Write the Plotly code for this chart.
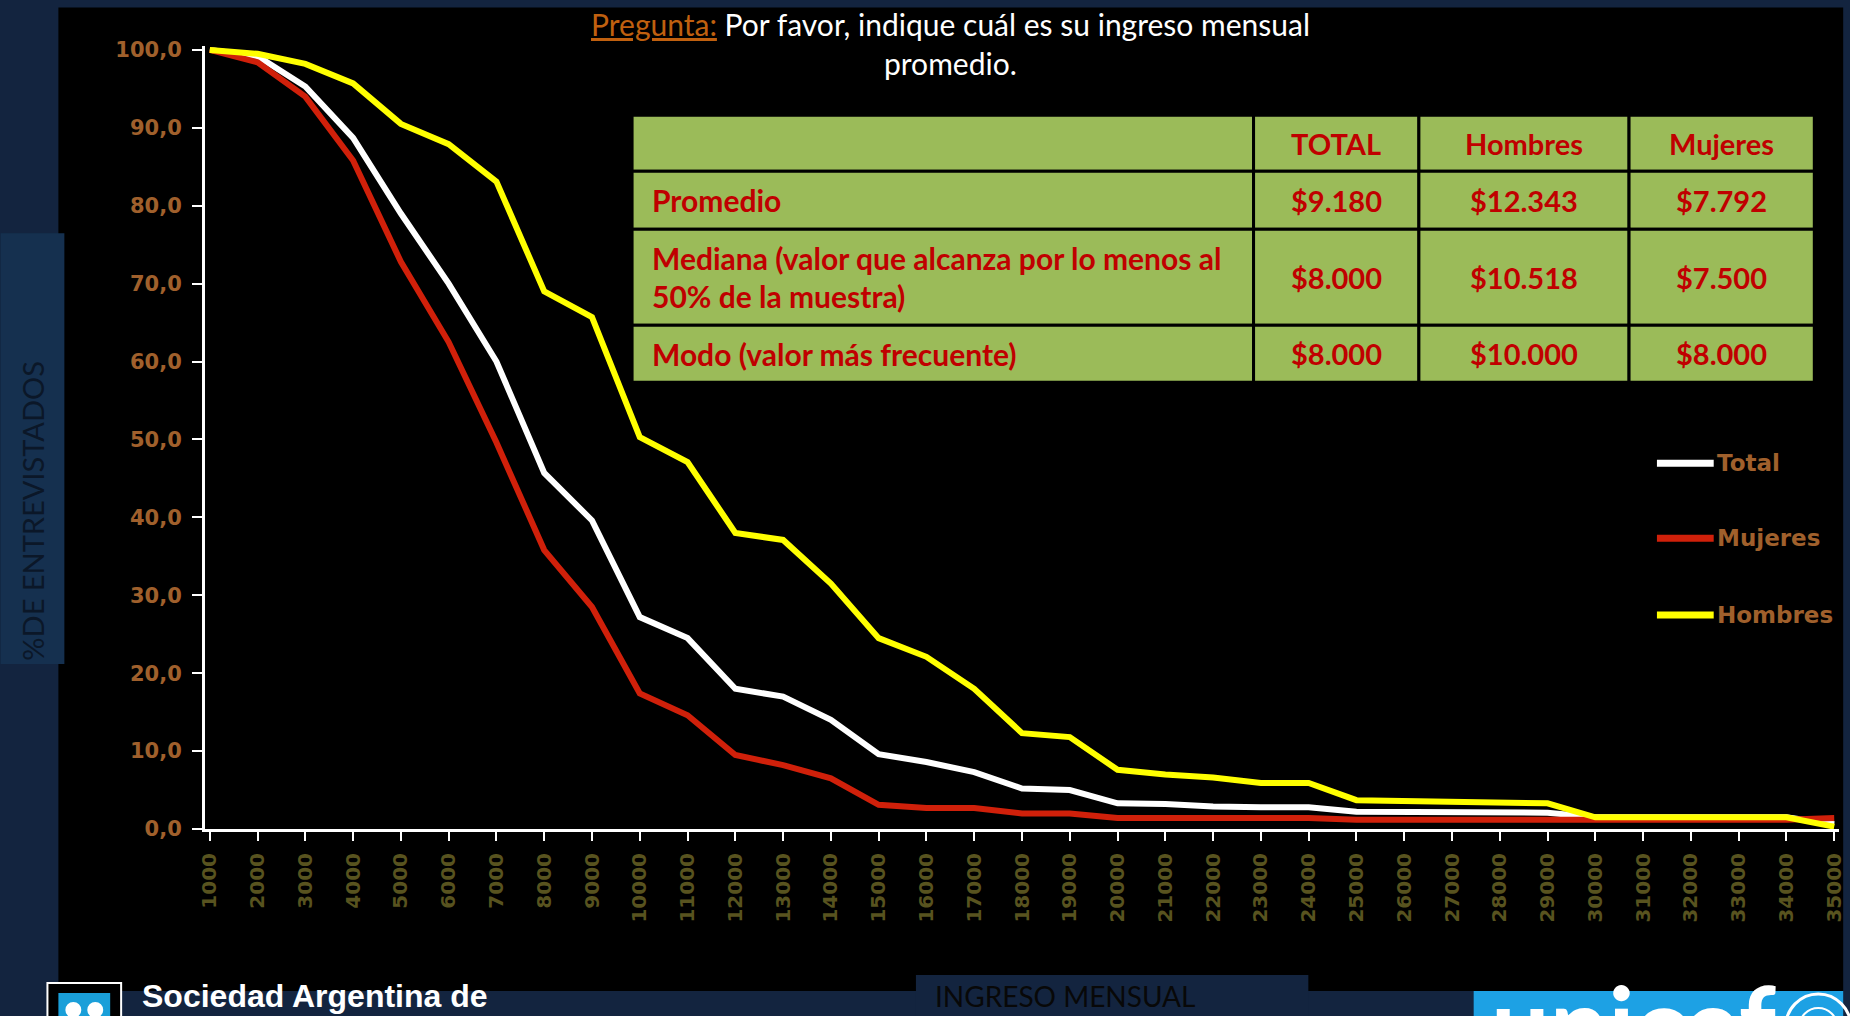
import plotly.graph_objects as go

# ---------------- data ----------------
categories = ["1000", "2000", "3000", "4000", "5000", "6000", "7000", "8000", "9000",
              "10000", "11000", "12000", "13000", "14000", "15000", "16000", "17000",
              "18000", "19000", "20000", "21000", "22000", "23000", "24000", "25000",
              "26000", "27000", "28000", "29000", "30000", "31000", "32000", "33000",
              "34000", "35000"]

total = [100.0, 99.2, 95.3, 88.7, 79.0, 70.0, 60.0, 45.7, 39.6, 27.2, 24.5, 18.0, 17.0,
         14.0, 9.6, 8.6, 7.3, 5.2, 5.0, 3.3, 3.2, 2.9, 2.8, 2.8, 2.2, 2.2, 2.1, 2.1, 2.1,
         1.5, 1.5, 1.5, 1.5, 1.5, 0.6]
mujeres = [100.0, 98.4, 94.0, 85.8, 72.8, 62.5, 49.6, 35.8, 28.5, 17.4, 14.6, 9.5, 8.2,
           6.5, 3.1, 2.7, 2.7, 2.0, 2.0, 1.4, 1.4, 1.4, 1.4, 1.4, 1.2, 1.2, 1.2, 1.2, 1.2,
           1.2, 1.2, 1.2, 1.2, 1.2, 1.4]
hombres = [100.0, 99.5, 98.2, 95.7, 90.5, 87.9, 83.1, 69.0, 65.7, 50.3, 47.1, 38.0, 37.1,
           31.5, 24.5, 22.1, 18.0, 12.3, 11.8, 7.6, 7.0, 6.6, 5.9, 5.9, 3.7, 3.6, 3.4, 3.3,
           3.3, 1.5, 1.5, 1.5, 1.5, 1.5, 0.3]

series_names = ["Total", "Mujeres", "Hombres"]
series_colors = ["#FFFFFF", "#D0200A", "#FFFF00"]

ytick_vals = [0, 10, 20, 30, 40, 50, 60, 70, 80, 90, 100]
ytick_text = ["0,0", "10,0", "20,0", "30,0", "40,0", "50,0", "60,0", "70,0", "80,0",
              "90,0", "100,0"]

table_header = ["", "TOTAL", "Hombres", "Mujeres"]
table_rows = [
    ["Promedio", "$9.180", "$12.343", "$7.792"],
    ["Mediana (valor que alcanza por lo menos al\n50% de la muestra)", "$8.000", "$10.518", "$7.500"],
    ["Modo (valor más frecuente)", "$8.000", "$10.000", "$8.000"],
]

title_question = "Pregunta:"
title_line1 = "Por favor, indique cuál es su ingreso mensual"
title_line2 = "promedio."
y_title = "%DE ENTREVISTADOS"
x_title = "INGRESO MENSUAL"

# ---------------- geometry (pixels) ----------------
W, H = 1850, 1016
L, R, T, B = 205.2, 4.2, 45.6, 187.0
PW, PH = W - L - R, H - T - B


def px(x):
    return (x - L) / PW


def py(y):
    return (H - B - y) / PH


NAVY = "#13243F"
BROWN = "#A0602C"
OLIVE = "#58531F"
TABLE_RED = "#C00000"
TABLE_GREEN = "#9BBB59"

fig = go.Figure()
for name, vals, col in zip(series_names, [total, mujeres, hombres], series_colors):
    fig.add_trace(go.Scatter(x=categories, y=vals, mode="lines", name=name,
                             line=dict(color=col, width=6), showlegend=False,
                             hoverinfo="x+y+name"))

shapes = []
annotations = []

# black panel and navy decorations
shapes.append(dict(type="rect", xref="paper", yref="paper", x0=px(58), x1=px(W), y0=py(991), y1=py(7),
                   fillcolor="#000000", line=dict(width=0), layer="below"))
shapes.append(dict(type="rect", xref="paper", yref="paper", x0=px(0), x1=px(64), y0=py(664), y1=py(233),
                   fillcolor="#15304F", line=dict(width=0), layer="below"))
shapes.append(dict(type="rect", xref="paper", yref="paper", x0=px(919), x1=px(1313), y0=py(1016), y1=py(975),
                   fillcolor=NAVY, line=dict(width=0), layer="below"))

# unicef block
shapes.append(dict(type="rect", xref="paper", yref="paper", x0=px(1479), x1=px(W), y0=py(1016), y1=py(991),
                   fillcolor="#1DA1E4", line=dict(width=0)))
shapes.append(dict(type="circle", xref="paper", yref="paper", x0=px(1792), x1=px(1858), y0=py(1062), y1=py(994),
                   line=dict(color="#FFFFFF", width=3)))
shapes.append(dict(type="circle", xref="paper", yref="paper", x0=px(1806), x1=px(1844), y0=py(1046), y1=py(1008),
                   line=dict(color="#FFFFFF", width=2)))
annotations.append(dict(x=px(1494), y=py(1022), xref="paper", yref="paper", text="unicef",
                        showarrow=False, xanchor="left", yanchor="middle",
                        font=dict(family="Lato", size=104, color="#FFFFFF", weight="bold")))

# SAP logo
shapes.append(dict(type="rect", xref="paper", yref="paper", x0=px(47), x1=px(121), y0=py(1030), y1=py(983),
                   fillcolor="#000000", line=dict(color="#FFFFFF", width=2)))
shapes.append(dict(type="rect", xref="paper", yref="paper", x0=px(58), x1=px(110), y0=py(1030), y1=py(993),
                   fillcolor="#1A9FD9", line=dict(width=0)))
for cx in (73, 95):
    shapes.append(dict(type="circle", xref="paper", yref="paper", x0=px(cx - 8), x1=px(cx + 8),
                       y0=py(1018), y1=py(1002), fillcolor="#FFFFFF", line=dict(width=0)))
annotations.append(dict(x=px(140), y=py(996), xref="paper", yref="paper", text="Sociedad Argentina de",
                        showarrow=False, xanchor="left", yanchor="middle",
                        font=dict(family="Liberation Sans", size=32, color="#FFFFFF", weight="bold")))

# axis titles
annotations.append(dict(x=px(32), y=py(510), xref="paper", yref="paper", text=y_title, textangle=-90,
                        showarrow=False, xanchor="center", yanchor="middle",
                        font=dict(family="Lato", size=29, color="#0B1728")))
annotations.append(dict(x=px(936), y=py(996), xref="paper", yref="paper", text=x_title,
                        showarrow=False, xanchor="left", yanchor="middle",
                        font=dict(family="Lato", size=28, color="#080808")))

# title
annotations.append(dict(x=px(954), y=py(24), xref="paper", yref="paper",
                        text="<span style='color:#C0600F'><u>" + title_question + "</u></span> " + title_line1,
                        showarrow=False, xanchor="center", yanchor="middle",
                        font=dict(family="Lato", size=30, color="#FFFFFF")))
annotations.append(dict(x=px(954), y=py(63), xref="paper", yref="paper", text=title_line2,
                        showarrow=False, xanchor="center", yanchor="middle",
                        font=dict(family="Lato", size=30, color="#FFFFFF")))

# table
col_edges = [634, 1258, 1424, 1635, 1821]
row_edges = [115, 171, 229, 325, 382]
all_rows = [table_header] + table_rows
label_font = dict(family="Lato", size=30, color=TABLE_RED, weight="bold")
value_font = dict(family="Lato", size=29, color=TABLE_RED, weight="bold")
for ri, row in enumerate(all_rows):
    y0, y1 = row_edges[ri], row_edges[ri + 1]
    for ci, txt in enumerate(row):
        x0, x1 = col_edges[ci], col_edges[ci + 1]
        shapes.append(dict(type="rect", xref="paper", yref="paper", x0=px(x0), x1=px(x1),
                           y0=py(y1), y1=py(y0), fillcolor=TABLE_GREEN,
                           line=dict(color="#000000", width=3)))
        if not txt:
            continue
        if ci == 0:
            lines = txt.split("\n")
            n = len(lines)
            yc = (y0 + y1) / 2
            for li, ln in enumerate(lines):
                yy = yc + (li - (n - 1) / 2) * 38
                annotations.append(dict(x=px(x0 + 18), y=py(yy), xref="paper", yref="paper", text=ln,
                                        showarrow=False, xanchor="left", yanchor="middle", font=label_font))
        else:
            annotations.append(dict(x=px((x0 + x1) / 2), y=py((y0 + y1) / 2), xref="paper", yref="paper",
                                    text=txt, showarrow=False, xanchor="center", yanchor="middle",
                                    font=value_font))

# legend (manual)
legend_y = [463, 538, 615]
for name, col, ly in zip(series_names, series_colors, legend_y):
    shapes.append(dict(type="line", xref="paper", yref="paper", x0=px(1663), x1=px(1720),
                       y0=py(ly), y1=py(ly), line=dict(color=col, width=7)))
    annotations.append(dict(x=px(1721), y=py(ly), xref="paper", yref="paper", text=name,
                            showarrow=False, xanchor="left", yanchor="middle",
                            font=dict(family="DejaVu Sans", size=23, color=BROWN, weight="bold")))

fig.update_layout(
    width=W, height=H,
    margin=dict(l=L, r=R, t=T, b=B, pad=0),
    paper_bgcolor=NAVY,
    plot_bgcolor="#000000",
    shapes=shapes,
    annotations=annotations,
    showlegend=False,
    xaxis=dict(type="category", range=[-0.1, 34.1], showgrid=False, zeroline=False,
               showline=True, linecolor="#FFFFFF", linewidth=3,
               ticks="outside", ticklen=9, tickwidth=2, tickcolor="#FFFFFF",
               tickangle=-90, ticklabelstandoff=4,
               tickfont=dict(family="DejaVu Sans", size=20, color=OLIVE, weight="bold")),
    yaxis=dict(range=[0, 100.5], tickvals=ytick_vals, ticktext=ytick_text, showgrid=False,
               zeroline=False, showline=True, linecolor="#FFFFFF", linewidth=3,
               ticks="outside", ticklen=10, tickwidth=2, tickcolor="#FFFFFF",
               ticklabelstandoff=6,
               tickfont=dict(family="DejaVu Sans", size=21, color=BROWN, weight="bold")),
)

fig.write_html("out.html", config={"displayModeBar": False},
               post_script="document.body.style.margin='0';document.body.style.overflow='hidden';")
